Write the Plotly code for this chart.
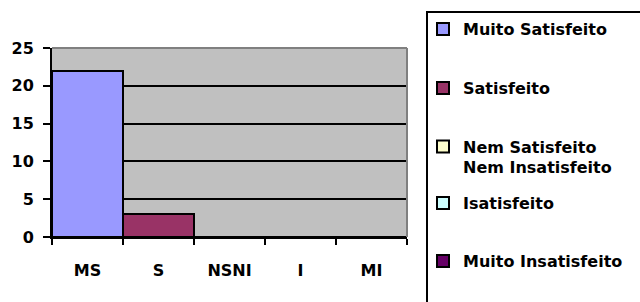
import plotly.graph_objects as go

categories = ["MS", "S", "NSNI", "I", "MI"]
series_names = ["Muito Satisfeito", "Satisfeito", "Nem Satisfeito<br>Nem Insatisfeito",
                "Isatisfeito", "Muito Insatisfeito"]
values = [22, 3, 0, 0, 0]
colors = ["#9999FF", "#993366", "#FFFFCC", "#CCFFFF", "#660066"]
y_ticks = [0, 5, 10, 15, 20, 25]

W, H = 640, 302
L, R, T, B = 52, 407, 48, 237


def px(x):
    return (x - L) / (R - L)


def py(y):
    return (B - y) / (B - T)


FONT = "DejaVu Sans, Arial, sans-serif"
legend_ids = ["legend", "legend2", "legend3", "legend4", "legend5"]
legend_centers = [29, 88, 157, 203, 261]

fig = go.Figure()
for i in range(len(categories)):
    fig.add_trace(go.Bar(
        x=[categories[i]], y=[values[i]], name=series_names[i],
        marker=dict(color=colors[i], line=dict(color="black", width=2)),
        legend=legend_ids[i],
    ))

layout = dict(
    width=W, height=H,
    margin=dict(l=L, r=W - R, t=T, b=H - B, pad=0, autoexpand=False),
    paper_bgcolor="white", plot_bgcolor="#C0C0C0",
    barmode="overlay", bargap=0,
    font=dict(family=FONT, size=16, color="black", weight="bold"),
    xaxis=dict(type="category", categoryorder="array", categoryarray=categories,
               range=[-0.5, 4.5], tickson="boundaries", ticks="outside", ticklen=6,
               tickwidth=2, tickcolor="black", showline=True, linecolor="black",
               linewidth=2, showgrid=False, ticklabelstandoff=18,
               tickfont=dict(size=16, weight="bold")),
    yaxis=dict(range=[0, 25], tickvals=y_ticks, ticks="outside", ticklen=7,
               tickwidth=2, tickcolor="black", showline=True, linecolor="black",
               linewidth=2, showgrid=True, gridcolor="black", gridwidth=2,
               zeroline=False, ticklabelstandoff=6,
               tickfont=dict(size=16, weight="bold")),
    shapes=[
        dict(type="line", xref="paper", yref="paper", x0=0, x1=1, y0=1, y1=1,
             line=dict(color="#808080", width=2), layer="above"),
        dict(type="line", xref="paper", yref="paper", x0=1, x1=1, y0=0, y1=1,
             line=dict(color="#808080", width=2), layer="above"),
        dict(type="rect", xref="paper", yref="paper", x0=px(427), x1=px(680),
             y0=py(330), y1=py(12), line=dict(color="black", width=2),
             fillcolor="rgba(0,0,0,0)", layer="above"),
    ],
    showlegend=True,
)
for lid, c in zip(legend_ids, legend_centers):
    layout[lid] = dict(x=px(423), y=py(c), xanchor="left", yanchor="middle",
                       bgcolor="rgba(0,0,0,0)", borderwidth=0, valign="top",
                       font=dict(family=FONT, size=16, color="black", weight="bold"))

fig.update_layout(**layout)
fig.write_html("out.html", config={"displayModeBar": False},
               post_script="document.body.style.margin='0';document.body.style.overflow='hidden';")
